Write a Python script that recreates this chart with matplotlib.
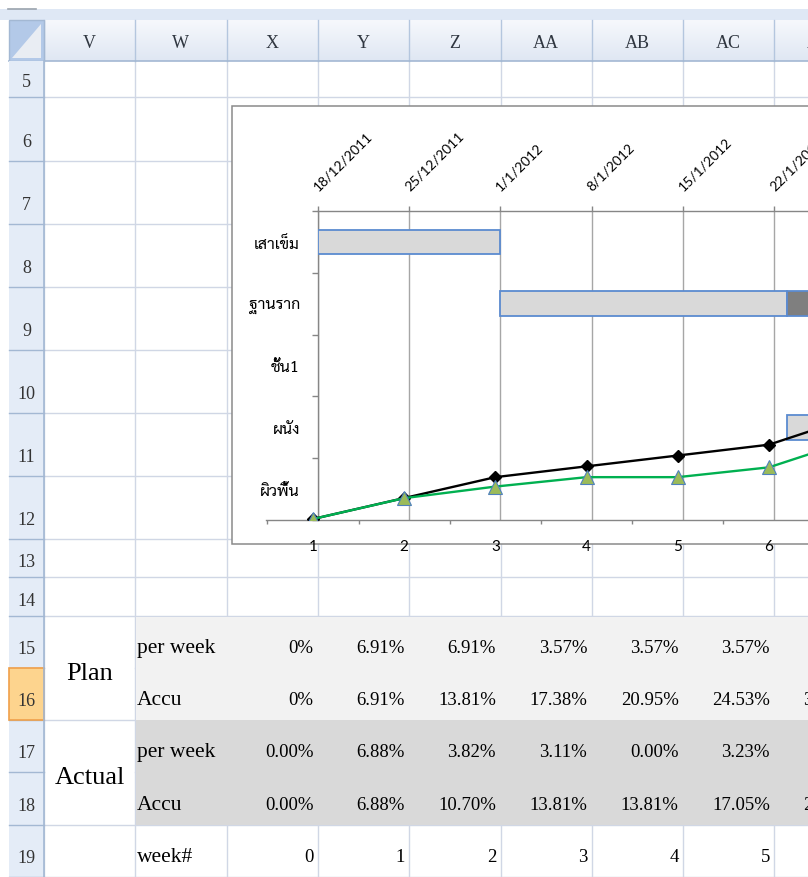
import matplotlib
matplotlib.use("Agg")
import matplotlib.pyplot as plt
from matplotlib import font_manager
from matplotlib.patches import Rectangle, Polygon
from matplotlib.colors import LinearSegmentedColormap
from matplotlib.transforms import ScaledTranslation
import numpy as np

# ---------------- data ----------------
col_letters = ['V', 'W', 'X', 'Y', 'Z', 'AA', 'AB', 'AC', 'AD']
row_numbers = [5, 6, 7, 8, 9, 10, 11, 12, 13, 14, 15, 16, 17, 18, 19]

tasks = ['เสาเข็ม', 'ฐานราก', 'ชั้น1', 'ผนัง', 'ผิวพื้น']
task_start_day = [0, 14, 50, 36, 57]      # days after 18/12/2011
task_plan_days = [14, 22, 14, 14, 14]
task_extra_days = [0, 7, 0, 0, 0]

week_dates = ['18/12/2011', '25/12/2011', '1/1/2012', '8/1/2012',
              '15/1/2012', '22/1/2012', '29/1/2012']
week_no = [0, 1, 2, 3, 4, 5, 6]
plan_week = [0, 6.91, 6.91, 3.57, 3.57, 3.57, 9.91]
plan_accu = [0, 6.91, 13.81, 17.38, 20.95, 24.53, 34.44]
actual_week = [0.00, 6.88, 3.82, 3.11, 0.00, 3.23, 9.85]
actual_accu = [0.00, 6.88, 10.70, 13.81, 13.81, 17.05, 26.90]
week_category = [1, 2, 3, 4, 5, 6, 7]

# ---------------- fonts ----------------
avail = {f.name for f in font_manager.fontManager.ttflist}
thai_pref = ['Sarabun', 'Noto Sans Thai Looped', 'Noto Sans Thai', 'Niramit',
             'K2D', 'Krub', 'Bai Jamjuree', 'Anuphan', 'Athiti']
thai_font = next((f for f in thai_pref if f in avail), 'DejaVu Sans')
serif = ['Liberation Serif', 'DejaVu Serif']
plt.rcParams['font.family'] = ['Lato', thai_font, 'DejaVu Sans']

# ---------------- layout (pixels) ----------------
W, H = 808, 878
col_x = [44 + 91.3 * i for i in range(10)]
row_h = [36, 64, 63, 63, 63, 63, 63, 63, 38, 39, 52, 52, 52, 53, 52]
row_y = np.concatenate([[62], 62 + np.cumsum(row_h)])
grid_c = '#d0d7e5'
hdr_line = '#a3b8d3'

fig = plt.figure(figsize=(W / 100, H / 100), dpi=100)
bg = fig.add_axes([0, 0, 1, 1])
bg.axis('off')

# top band
bg.add_patch(Rectangle((0, 10), W, 11, facecolor='#dfe8f5', edgecolor='none'))
bg.plot([8, 36], [10, 10], color='#9aa3ad', lw=1.2)

# column header gradient
grad = np.linspace(0, 1, 50).reshape(-1, 1)
cmap = LinearSegmentedColormap.from_list('hdr', ['#f6f8fc', '#dfe7f3'])
bg.imshow(grad, extent=(44, W, 62, 21), aspect='auto', cmap=cmap, origin='upper', zorder=1)
for x in col_x:
    bg.plot([x, x], [21, 62], color='#b4c6de', lw=1, zorder=2)
bg.plot([9, W], [62, 62], color=hdr_line, lw=1.2, zorder=2)
for i, lab in enumerate(col_letters):
    bg.text((col_x[i] + col_x[i + 1]) / 2, 48.5, lab, ha='center', va='baseline',
            fontsize=13, family=serif, color='#2f3640', zorder=3)

# corner cell
bg.add_patch(Rectangle((9, 21), 34.5, 41, facecolor='#b3c9e8', edgecolor=hdr_line, lw=1, zorder=2))
bg.add_patch(Polygon([(41, 25), (12, 59), (41, 59)], closed=True,
                     facecolor='#e9edf3', edgecolor='none', zorder=3))

# cell gridlines
for y in row_y[1:]:
    x0 = 135.3 if y in (669, 773) else 44
    bg.plot([x0, W], [y, y], color=grid_c, lw=1, zorder=1)
for x in col_x:
    bg.plot([x, x], [62, H], color=grid_c, lw=1, zorder=1)

# table fills
bg.add_patch(Rectangle((135.8, 617.5), W, 103.5, facecolor='#f2f2f2', edgecolor='none', zorder=1.5))
bg.add_patch(Rectangle((135.8, 721), W, 104.5, facecolor='#d9d9d9', edgecolor='none', zorder=1.5))

# row header
bg.add_patch(Rectangle((9, 62), 34.5, H - 62, facecolor='#e4ecf7', edgecolor='none', zorder=2))
for y in row_y[1:]:
    bg.plot([9, 43.5], [y, y], color=hdr_line, lw=1, zorder=2.1)
bg.add_patch(Rectangle((9, 669), 34.5, 52, facecolor='#fdd48e', edgecolor='#f0a04a', lw=1.2, zorder=2.2))
bg.plot([43.5, 43.5], [62, H], color=hdr_line, lw=1.2, zorder=2.3)
for i, rn in enumerate(row_numbers):
    bottom = row_y[i + 1]
    off = 11 if row_h[i] < 45 else 15
    bg.text(26.5, bottom - off, str(rn), ha='center', va='baseline', fontsize=13,
            family=serif, color='#333333', zorder=3)

# chart box
bg.add_patch(Rectangle((232, 107), 700, 438, facecolor='white', edgecolor='#8a8a8a', lw=1.1, zorder=4))

# table text
def fmt_plan(v):
    return '0%' if v == 0 else f'{v:.2f}%'

def fmt_act(v):
    return f'{v:.2f}%'

tbl_rows = [(row_y[11], 'per week', [fmt_plan(v) for v in plan_week]),
            (row_y[12], 'Accu', [fmt_plan(v) for v in plan_accu]),
            (row_y[13], 'per week', [fmt_act(v) for v in actual_week]),
            (row_y[14], 'Accu', [fmt_act(v) for v in actual_accu]),
            (row_y[15], 'week#', [str(v) for v in week_no])]
for bottom, lab, vals in tbl_rows:
    base = bottom - 15.5
    bg.text(137, base, lab, ha='left', va='baseline', fontsize=15.5, family=serif, zorder=5)
    for j, s in enumerate(vals):
        bg.text(col_x[3 + j] - 4.5, base, s, ha='right', va='baseline', fontsize=13.5,
                family=serif, zorder=5)
bg.text(89.6, 680.5, 'Plan', ha='center', va='baseline', fontsize=19, family=serif, zorder=5)
bg.text(89.6, 784.5, 'Actual', ha='center', va='baseline', fontsize=19, family=serif, zorder=5)

bg.set_xlim(0, W)
bg.set_ylim(H, 0)

# ---------------- chart ----------------
px_day = 13.03
px_cat = 91.2
top_px, bot_px = 212, 521
gx0, lx0 = 318, 266

def rect(x0):
    return [x0 / W, (H - bot_px) / H, (W - x0) / W, (bot_px - top_px) / H]

axG = fig.add_axes(rect(gx0), zorder=5)
axG.set_facecolor('none')
ypos = np.arange(len(tasks))
axG.barh(ypos, task_plan_days, left=task_start_day, height=0.4,
         color='#d9d9d9', edgecolor='#5b8bd0', lw=1.3, zorder=3)
ext = [(y, s + p, e) for y, s, p, e in zip(ypos, task_start_day, task_plan_days, task_extra_days) if e > 0]
axG.barh([e[0] for e in ext], [e[2] for e in ext], left=[e[1] for e in ext], height=0.4,
         color='#7f7f7f', edgecolor='#5b8bd0', lw=1.3, zorder=3)

week_days = [7 * i for i in range(len(week_dates))]
axG.xaxis.tick_top()
axG.set_xticks(week_days)
axG.set_xticklabels(week_dates, rotation=45, ha='left', va='bottom',
                    rotation_mode='anchor', fontsize=10)
axG.tick_params(axis='x', which='major', direction='out', length=3.6, width=1,
                color='#868686', pad=10, top=True, bottom=False)
shift = ScaledTranslation(2 / 100, 0, fig.dpi_scale_trans)
for t in axG.get_xticklabels():
    t.set_transform(t.get_transform() + shift)
axG.grid(axis='x', color='#a6a6a6', lw=1.0, zorder=0)
axG.set_axisbelow(True)
axG.set_yticks(ypos)
axG.set_yticklabels(tasks, family=[thai_font, 'DejaVu Sans'], fontsize=11.5)
axG.set_yticks(np.arange(-0.5, len(tasks), 1), minor=True)
axG.tick_params(axis='y', which='major', length=0, pad=13)
axG.tick_params(axis='y', which='minor', direction='out', length=4.3, width=1, color='#868686')
for s in ['bottom', 'right']:
    axG.spines[s].set_visible(False)
for s in ['top', 'left']:
    axG.spines[s].set_color('#868686')
    axG.spines[s].set_linewidth(1)
axG.set_xlim(0, (W - gx0) / px_day)
axG.set_ylim(len(tasks) - 0.5, -0.5)

axL = fig.add_axes(rect(lx0), zorder=6)
axL.set_facecolor('none')
axL.plot(week_category, plan_accu, color='black', lw=1.7, marker='D', markersize=6.3,
         markerfacecolor='black', markeredgecolor='black', zorder=3)
axL.plot(week_category, actual_accu, color='#00b050', lw=1.7, marker='^', markersize=10,
         markerfacecolor='#9bbb59', markeredgecolor='#4f81bd', markeredgewidth=0.8, zorder=4)
axL.set_xticks(week_category)
axL.set_xticklabels([str(c) for c in week_category], fontsize=11)
axL.set_xticks(np.arange(0.5, len(week_category) + 1, 1), minor=True)
axL.tick_params(axis='x', which='major', length=0, pad=13.5)
axL.tick_params(axis='x', which='minor', direction='out', length=3, width=1, color='#868686')
axL.set_yticks([])
for s in ['top', 'left', 'right']:
    axL.spines[s].set_visible(False)
axL.spines['bottom'].set_color('#868686')
axL.spines['bottom'].set_linewidth(1)
axL.set_xlim(0.485, 0.485 + (W - lx0) / px_cat)
axL.set_ylim(-0.33, 101.65)

fig.savefig('out.png', dpi=100)
